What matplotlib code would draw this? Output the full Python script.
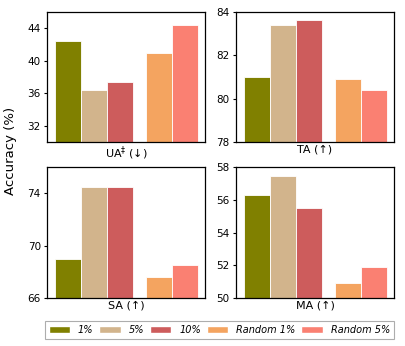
import matplotlib
matplotlib.use("Agg")
import matplotlib.pyplot as plt
from matplotlib.patches import Patch

groups = ["1%", "5%", "10%", "Random 1%", "Random 5%"]
colors = ["#808000", "#D2B48C", "#CD5C5C", "#F4A460", "#FA8072"]

ua = [42.4, 36.35, 37.4, 40.9, 44.45]
ta = [81.02, 83.42, 83.62, 80.92, 80.38]
sa = [68.96, 74.5, 74.5, 67.57, 68.5]
ma = [56.31, 57.48, 55.47, 50.93, 51.92]

titles = ["UA$^{\\ddagger}$ (↓)", "TA (↑)", "SA (↑)", "MA (↑)"]
ylims = [(30, 46), (78, 84), (66, 76), (50, 58)]
yticks = [[32, 36, 40, 44], [78, 80, 82, 84], [66, 70, 74], [50, 52, 54, 56, 58]]
data = [ua, ta, sa, ma]

xpos = [0, 1, 2, 3.5, 4.5]

fig = plt.figure(figsize=(4.06, 3.46), dpi=100)
rects = [
    [0.1158, 0.5896, 0.3892, 0.3757],
    [0.5813, 0.5896, 0.3891, 0.3757],
    [0.1158, 0.1387, 0.3892, 0.3786],
    [0.5813, 0.1387, 0.3891, 0.3786],
]
for r, vals, t, yl, yt in zip(rects, data, titles, ylims, yticks):
    ax = fig.add_axes(r)
    lo = yl[0]
    ax.bar(xpos, [v - lo for v in vals], bottom=lo, width=1.0, color=colors,
           edgecolor="white", linewidth=0.6)
    ax.set_ylim(*yl)
    ax.set_xlim(-0.81, 5.27)
    ax.set_yticks(yt)
    ax.set_xticks([])
    ax.set_xlabel(t, fontsize=8, labelpad=2)
    ax.tick_params(axis="y", labelsize=7.5, length=2.5, width=0.8, pad=2)
    for s in ax.spines.values():
        s.set_linewidth(0.9)

fig.text(0.027, 0.5636, "Accuracy (%)", rotation=90, va="center", ha="center", fontsize=9.5)

handles = [Patch(facecolor=c, edgecolor="white") for c in colors]
leg = fig.legend(handles, groups, loc="center", bbox_to_anchor=(0.54, 0.046), ncol=5,
                 prop={"style": "italic", "size": 7}, frameon=True,
                 handlelength=2.2, handleheight=0.7, columnspacing=0.62, handletextpad=0.8,
                 borderpad=0.4, fancybox=False)
leg.get_frame().set_edgecolor("#999999")
leg.get_frame().set_linewidth(0.8)

fig.savefig("out.png", dpi=100)
